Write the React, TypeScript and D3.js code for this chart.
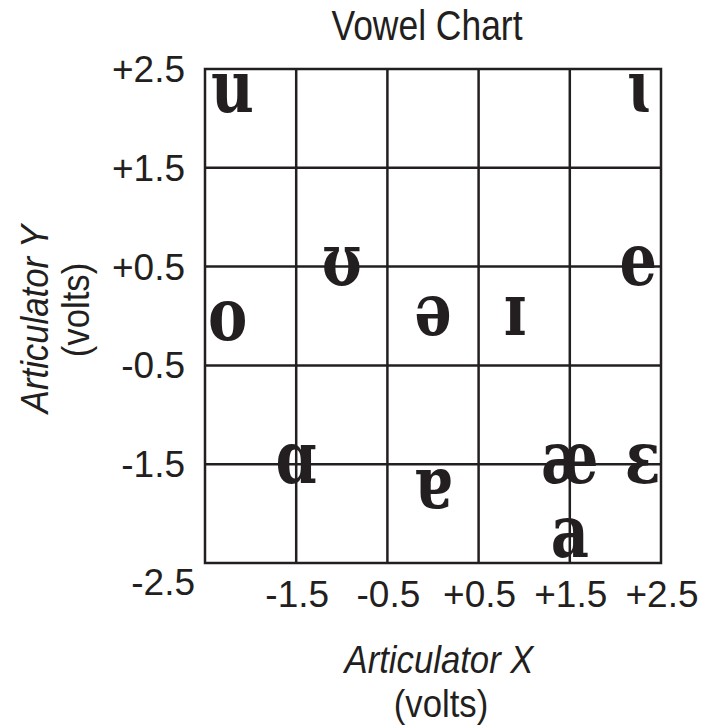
import { useEffect, useRef } from "react";
import * as d3 from "d3";

// vowel symbols and their articulator positions (volts)
const vowels = ["u", "ɩ", "ʊ", "e", "o", "ə", "ɪ", "ɑ", "ɐ", "æ", "ɛ", "a"];
const vowelX = [-2.2, 2.25, -1.0, 2.25, -2.25, 0.0, 0.9, -1.5, 0.0, 1.5, 2.3, 1.5];
const vowelY = [2.25, 2.25, 0.5, 0.5, -0.05, 0.0, 0.0, -1.5, -1.75, -1.5, -1.5, -2.25];

const xTicks = [-1.5, -0.5, 0.5, 1.5, 2.5];
const yTicks = [2.5, 1.5, 0.5, -0.5, -1.5];
const cornerTick = -2.5;

const fmt = (v: number) => (v > 0 ? "+" : "") + v.toFixed(1);

function VowelChart({ width, height }: { width: number; height: number }) {
  const svgRef = useRef<SVGSVGElement | null>(null);

  useEffect(() => {
    const svg = d3.select(svgRef.current);
    svg.selectAll("*").remove();

    const margin = { top: 69, right: 45, bottom: 164, left: 205 };
    const innerWidth = width - margin.left - margin.right;
    const innerHeight = height - margin.top - margin.bottom;
    const ink = "#231f20";
    const sans = "'Liberation Sans', Arial, sans-serif";

    const xScale = d3.scaleLinear().domain([-2.5, 2.5]).range([0, innerWidth]);
    const yScale = d3.scaleLinear().domain([-2.5, 2.5]).range([innerHeight, 0]);

    const g = svg
      .append("g")
      .attr("transform", `translate(${margin.left},${margin.top})`);

    // grid lines
    g.selectAll("line.vgrid")
      .data(xTicks.slice(0, -1))
      .enter()
      .append("line")
      .attr("x1", d => xScale(d))
      .attr("x2", d => xScale(d))
      .attr("y1", 0)
      .attr("y2", innerHeight)
      .attr("stroke", ink)
      .attr("stroke-width", 2.5);

    g.selectAll("line.hgrid")
      .data(yTicks.slice(1))
      .enter()
      .append("line")
      .attr("x1", 0)
      .attr("x2", innerWidth)
      .attr("y1", d => yScale(d))
      .attr("y2", d => yScale(d))
      .attr("stroke", ink)
      .attr("stroke-width", 2.5);

    // frame
    g.append("rect")
      .attr("width", innerWidth)
      .attr("height", innerHeight)
      .attr("fill", "none")
      .attr("stroke", ink)
      .attr("stroke-width", 2.5);

    // y tick labels
    g.selectAll("text.ytick")
      .data(yTicks)
      .enter()
      .append("text")
      .attr("x", -20)
      .attr("y", d => yScale(d) + 13)
      .attr("text-anchor", "end")
      .attr("font-family", sans)
      .attr("font-size", 37)
      .attr("fill", ink)
      .text(fmt);

    // x tick labels
    g.selectAll("text.xtick")
      .data(xTicks)
      .enter()
      .append("text")
      .attr("x", d => xScale(d) + 1)
      .attr("y", innerHeight + 44)
      .attr("text-anchor", "middle")
      .attr("font-family", sans)
      .attr("font-size", 37)
      .attr("fill", ink)
      .text(fmt);

    // shared corner label
    g.append("text")
      .attr("x", xScale(cornerTick) - 10)
      .attr("y", innerHeight + 32)
      .attr("text-anchor", "end")
      .attr("font-family", sans)
      .attr("font-size", 37)
      .attr("fill", ink)
      .text(fmt(cornerTick));

    // vowels (bold serif, slightly condensed)
    g.selectAll("text.vowel")
      .data(vowels)
      .enter()
      .append("text")
      .attr("transform", (d, i) =>
        `translate(${xScale(vowelX[i])},${yScale(vowelY[i])}) scale(0.82,1)`)
      .attr("dy", "0.26em")
      .attr("text-anchor", "middle")
      .attr("font-family", "'DejaVu Serif', serif")
      .attr("font-weight", "bold")
      .attr("font-size", 72)
      .attr("fill", ink)
      .text(d => d);

    // title
    svg.append("text")
      .attr("x", 427)
      .attr("y", 40)
      .attr("text-anchor", "middle")
      .attr("font-family", sans)
      .attr("font-size", 42)
      .attr("textLength", 191)
      .attr("lengthAdjust", "spacingAndGlyphs")
      .attr("fill", ink)
      .text("Vowel Chart");

    // x axis label
    svg.append("text")
      .attr("transform", "translate(439,673) scale(0.89,1)")
      .attr("text-anchor", "middle")
      .attr("font-family", sans)
      .attr("font-size", 39)
      .attr("font-style", "italic")
      .attr("fill", ink)
      .text("Articulator X");
    svg.append("text")
      .attr("transform", "translate(441,717) scale(0.89,1)")
      .attr("text-anchor", "middle")
      .attr("font-family", sans)
      .attr("font-size", 39)
      .attr("fill", ink)
      .text("(volts)");

    // y axis label
    svg.append("text")
      .attr("transform", "translate(48,319) rotate(-90) scale(0.89,1)")
      .attr("text-anchor", "middle")
      .attr("font-family", sans)
      .attr("font-size", 39)
      .attr("font-style", "italic")
      .attr("fill", ink)
      .text("Articulator Y");
    svg.append("text")
      .attr("transform", "translate(89,310) rotate(-90) scale(0.89,1)")
      .attr("text-anchor", "middle")
      .attr("font-family", sans)
      .attr("font-size", 39)
      .attr("fill", ink)
      .text("(volts)");
  }, [width, height]);

  return (
    <svg
      ref={svgRef}
      width={width}
      height={height}
      style={{ position: "absolute", left: 0, top: 0, background: "#fff" }}
    />
  );
}

export default function App() {
  return <VowelChart width={706} height={727} />;
}
